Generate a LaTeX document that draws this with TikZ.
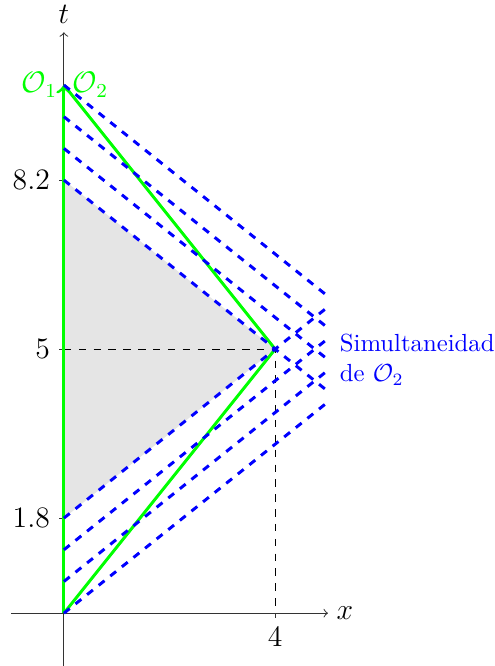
\documentclass[tikz,border=0pt]{standalone}
\usepackage{amssymb}
\usepackage{tikz}
\usetikzlibrary{calc}
\tikzset{
ax/.style={->,black!80},
wl/.style={green,very thick},
sl/.style={blue,dashed,very thick},
tk/.style={black!80},
lb/.style={black,font=\large},
}

\begin{document}
\begin{tikzpicture}[x=0.75cm,y=0.75cm]
	\useasboundingbox (-1.21,-1) rectangle (8.16,11.61);
	\coordinate (O) at (0,0);
	\coordinate (E) at (4,5);
	\coordinate (T) at (0,10);
	\coordinate (A) at (0,1.8);
	\coordinate (B) at (0,8.2);
	\coordinate (C) at (0,5);
	\coordinate (D) at (4,0);

	\fill[gray!20] (A) -- (E) -- (B) -- cycle;
	\draw[dashed] (C) -- (E) -- ($(D)+(0,-0.1)$);

	% ejes
	\draw[ax] (-1,0) -- (5,0) node[right,lb] (xl) {$x$};
	\draw[ax] (0,-1) -- (0,11) node[above,lb] (tl) {$t$};
	\foreach \t/\n in {1.8/a,5/c,8.2/b}
		\draw[tk] (0,\t) -- (-0.1,\t) node[left,lb] (l\n) {$\t$};
	\draw[tk] (D) -- +(0,-0.1) node[below,lb] (ld) {$4$};

	% lineas de universo
	\draw[wl,->] (O) -- (T);
	\draw[wl] (O) -- (E) -- (T);
	\node[left,green,font=\large,inner sep=2.5pt] (o1) at (T) {$\mathcal{O}_1$};
	\node[right,green,font=\large] (o2) at (T) {$\mathcal{O}_2$};

	% simultaneidad
	\foreach \a in {0,0.6,1.2,1.8}
		\draw[sl] (0,\a) -- (5,\a+4);
	\foreach \a in {10,9.4,8.8,8.2}
		\draw[sl] (0,\a) -- (5,\a-4);
	\node[right,blue,align=left] (sim) at (5.06,4.8) {Simultaneidad\\de $\mathcal{O}_2$};
\end{tikzpicture}
\end{document}
